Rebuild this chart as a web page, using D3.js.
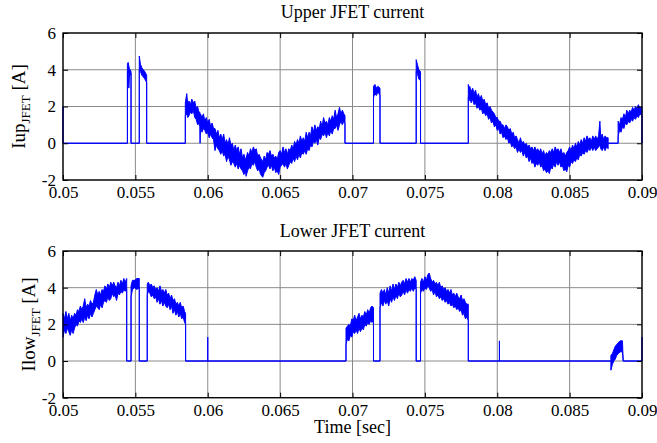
<!DOCTYPE html>
<html>
<head>
<meta charset="utf-8">
<script src="https://cdn.jsdelivr.net/npm/d3@7/dist/d3.min.js"></script>
<style>
  body { margin: 0; background: #fff; }
  svg text { font-family: "Liberation Serif", "Times New Roman", serif; fill: #000; }
</style>
</head>
<body>
<svg id="chart" width="657" height="443"></svg>
<script>
// Time axis (seconds) and current axis (amperes)
const timeTicks = [0.05, 0.055, 0.06, 0.065, 0.07, 0.075, 0.08, 0.085, 0.09];
const timeTickLabels = ["0.05", "0.055", "0.06", "0.065", "0.07", "0.075", "0.08", "0.085", "0.09"];
const currentTicks = [-2, 0, 2, 4, 6];
const currentTickLabels = ["-2", "0", "2", "4", "6"];

// Upper JFET current: [time, low edge of ripple band, high edge of ripple band]
const upperCurrent = [
  [0.05000, 0, 2.0], [0.05000, 0, 0],
  [0.05445, 0, 0],
  [0.05445, 3.9, 4.3], [0.05450, 3.8, 4.4], [0.05455, 3.0, 4.2], [0.05460, 3.8, 4.0], [0.05465, 3.7, 4.0], [0.05470, 3.8, 3.9],
  [0.05470, 0, 0],
  [0.05527, 0, 0],
  [0.05527, 4.0, 4.75], [0.05535, 3.9, 4.3], [0.05545, 3.7, 4.1], [0.05555, 3.6, 4.0], [0.05565, 3.5, 3.9], [0.05578, 3.3, 3.7],
  [0.05578, 0, 0],
  [0.05845, 0, 0],
  [0.05845, 1.5, 2.2], [0.05855, 1.6, 2.7], [0.05862, 1.4, 2.1], [0.05870, 1.5, 2.3], [0.05880, 1.7, 2.1],
  [0.05890, 1.6, 2.4], [0.05900, 1.8, 2.2], [0.05910, 1.4, 2.3], [0.05920, 1.3, 1.9], [0.05930, 1.0, 2.0],
  [0.05938, 1.1, 1.7], [0.05945, 0.9, 1.7], [0.05947, 0.0, 1.5], [0.05950, 0.9, 1.6], [0.05960, 0.6, 1.4],
  [0.05970, 0.8, 1.6], [0.05980, 0.7, 1.2], [0.05990, 0.5, 1.4], [0.06000, 0.6, 1.1], [0.06010, 0.3, 1.3],
  [0.06020, 0.5, 0.9], [0.06030, 0.3, 1.1], [0.06040, 0.2, 0.8], [0.06050, -0.4, 0.8], [0.06060, -0.1, 0.5],
  [0.06070, -0.3, 0.7], [0.06080, -0.4, 0.3], [0.06090, -0.6, 0.5], [0.06100, -0.4, 0.2], [0.06110, -0.7, 0.5],
  [0.06120, -0.6, 0.0], [0.06130, -1.0, 0.2], [0.06140, -0.7, -0.1], [0.06150, -0.9, 0.3], [0.06160, -1.2, -0.1],
  [0.06170, -1.0, 0.0], [0.06180, -1.1, -0.4], [0.06190, -1.3, -0.1], [0.06200, -1.1, -0.4], [0.06210, -1.4, -0.2],
  [0.06220, -1.2, -0.6], [0.06230, -1.4, -0.3], [0.06240, -1.5, -0.8], [0.06250, -1.7, -0.6], [0.06260, -1.5, -0.9],
  [0.06265, -1.8, -0.8], [0.06275, -1.5, -0.5], [0.06285, -1.3, -0.7], [0.06295, -1.4, -0.3], [0.06305, -1.1, -0.5],
  [0.06315, -1.2, -0.2], [0.06325, -1.0, -0.4], [0.06335, -1.3, -0.3], [0.06345, -1.5, -0.7], [0.06355, -1.4, -0.6],
  [0.06365, -1.7, -0.8], [0.06380, -1.85, -1.0], [0.06390, -1.6, -0.7], [0.06400, -1.5, -0.9], [0.06410, -1.3, -0.5],
  [0.06420, -1.2, -0.6], [0.06430, -1.4, -0.4], [0.06440, -1.2, -0.7], [0.06450, -1.5, -0.6], [0.06460, -1.3, -0.8],
  [0.06470, -1.6, -0.7], [0.06480, -1.5, -0.9], [0.06490, -1.7, -0.5], [0.06500, -1.3, -0.4], [0.06510, -1.2, -0.6],
  [0.06520, -1.1, -0.2], [0.06530, -1.3, -0.5], [0.06540, -1.1, -0.3], [0.06550, -1.4, -0.6], [0.06560, -1.2, -0.3],
  [0.06570, -1.0, -0.4], [0.06580, -1.1, -0.1], [0.06590, -0.8, -0.3], [0.06600, -1.0, 0.1], [0.06610, -0.7, -0.1],
  [0.06620, -0.9, 0.2], [0.06630, -0.6, 0.0], [0.06640, -0.8, 0.4], [0.06650, -0.5, 0.1], [0.06660, -0.6, 0.3],
  [0.06670, -0.4, 0.1], [0.06680, -0.6, 0.6], [0.06690, -0.3, 0.3], [0.06700, -0.4, 0.6], [0.06710, -0.1, 0.4],
  [0.06720, -0.2, 0.9], [0.06730, 0.1, 0.6], [0.06740, 0.0, 1.0], [0.06750, 0.2, 0.7], [0.06760, -0.1, 0.9],
  [0.06770, 0.3, 0.8], [0.06780, 0.2, 1.2], [0.06790, 0.5, 0.9], [0.06800, 0.4, 1.4], [0.06810, 0.6, 1.1],
  [0.06820, 0.3, 1.2], [0.06830, 0.6, 1.0], [0.06840, 0.4, 1.4], [0.06850, 0.7, 1.2], [0.06860, 0.5, 1.5],
  [0.06870, 0.8, 1.3], [0.06880, 0.8, 1.8], [0.06890, 1.0, 1.4], [0.06900, 0.7, 1.6], [0.06910, 1.0, 1.95],
  [0.06920, 1.2, 1.6], [0.06930, 1.0, 1.8], [0.06940, 1.2, 1.6], [0.06948, 1.1, 1.5],
  [0.06948, 0, 0],
  [0.07145, 0, 0],
  [0.07145, 2.5, 3.1], [0.07155, 2.7, 3.2], [0.07165, 2.6, 3.0], [0.07175, 2.8, 3.1], [0.07190, 2.6, 3.0],
  [0.07190, 0, 0],
  [0.07440, 0, 0],
  [0.07440, 3.9, 4.55], [0.07448, 3.8, 4.3], [0.07458, 3.5, 4.0], [0.07470, 3.4, 3.9],
  [0.07470, 0, 0],
  [0.07800, 0, 0],
  [0.07800, 2.5, 3.2], [0.07805, 2.3, 2.9], [0.07810, 2.5, 3.1], [0.07820, 2.2, 2.8], [0.07830, 2.4, 3.0],
  [0.07840, 2.1, 2.7], [0.07850, 2.2, 2.9], [0.07860, 1.9, 2.5], [0.07870, 2.0, 2.7], [0.07880, 1.8, 2.4],
  [0.07890, 1.9, 2.6], [0.07900, 1.6, 2.3], [0.07910, 1.7, 2.4], [0.07920, 1.5, 2.1], [0.07930, 1.6, 2.2],
  [0.07940, 1.3, 1.9], [0.07950, 1.4, 2.0], [0.07960, 1.1, 1.8], [0.07970, 1.2, 1.7], [0.07980, 0.9, 1.6],
  [0.07990, 1.0, 1.4], [0.08000, 0.7, 1.4], [0.08010, 0.8, 1.2], [0.08020, 0.5, 1.2], [0.08030, 0.6, 1.0],
  [0.08040, 0.3, 1.0], [0.08050, 0.4, 0.8], [0.08060, 0.2, 1.0], [0.08070, 0.3, 0.9], [0.08080, 0.0, 0.7],
  [0.08090, 0.1, 0.8], [0.08100, -0.2, 0.5], [0.08110, -0.1, 0.6], [0.08120, -0.3, 0.3], [0.08130, -0.2, 0.4],
  [0.08140, -0.5, 0.2], [0.08150, -0.3, 0.0], [0.08160, -0.5, 0.3], [0.08170, -0.4, 0.0], [0.08180, -0.7, 0.1],
  [0.08190, -0.5, -0.1], [0.08200, -0.8, 0.0], [0.08210, -0.7, -0.2], [0.08220, -1.0, -0.1], [0.08230, -0.8, -0.3],
  [0.08240, -1.1, -0.2], [0.08250, -1.0, -0.4], [0.08260, -1.3, -0.2], [0.08270, -1.1, -0.4], [0.08280, -1.2, -0.3],
  [0.08290, -1.0, -0.5], [0.08300, -1.3, -0.3], [0.08310, -1.2, -0.6], [0.08320, -1.5, -0.4], [0.08330, -1.4, -0.7],
  [0.08340, -1.6, -0.5], [0.08350, -1.5, -0.6], [0.08360, -1.65, -0.4], [0.08370, -1.3, -0.5], [0.08380, -1.4, -0.3],
  [0.08390, -1.1, -0.5], [0.08400, -1.3, -0.2], [0.08410, -1.0, -0.4], [0.08420, -1.2, -0.3], [0.08430, -1.0, -0.5],
  [0.08440, -1.3, -0.3], [0.08450, -1.2, -0.6], [0.08460, -1.5, -0.5], [0.08470, -1.4, -0.7], [0.08480, -1.55, -0.5],
  [0.08490, -1.2, -0.4], [0.08500, -1.3, -0.2], [0.08510, -1.0, -0.4], [0.08520, -1.1, -0.1], [0.08530, -0.9, -0.3],
  [0.08540, -1.0, 0.0], [0.08550, -0.8, -0.2], [0.08560, -0.9, 0.1], [0.08570, -0.6, -0.1], [0.08580, -0.7, 0.2],
  [0.08590, -0.5, 0.0], [0.08600, -0.6, 0.3], [0.08610, -0.4, 0.1], [0.08620, -0.5, 0.4], [0.08630, -0.3, 0.2],
  [0.08640, -0.4, 0.3], [0.08650, -0.2, 0.1], [0.08660, -0.4, 0.4], [0.08670, -0.2, 0.2], [0.08680, -0.4, 0.4],
  [0.08690, -0.3, 0.2], [0.08700, -0.2, 0.4], [0.08709, -0.1, 1.2], [0.08715, -0.3, 0.3], [0.08725, -0.4, 0.5],
  [0.08735, -0.2, 0.2], [0.08745, -0.4, 0.4], [0.08755, -0.2, 0.3], [0.08766, -0.3, 0.3],
  [0.08766, 0, 0],
  [0.08835, 0, 0],
  [0.08835, 0.4, 1.2], [0.08845, 0.7, 1.0], [0.08855, 0.6, 1.4], [0.08865, 0.9, 1.3], [0.08875, 0.8, 1.6],
  [0.08885, 1.1, 1.4], [0.08895, 1.0, 1.8], [0.08905, 1.2, 1.6], [0.08915, 1.1, 1.8], [0.08925, 1.3, 1.7],
  [0.08935, 1.2, 1.95], [0.08945, 1.4, 1.8], [0.08955, 1.3, 2.0], [0.08965, 1.5, 1.9], [0.08975, 1.4, 2.1],
  [0.08985, 1.6, 1.9], [0.09000, 1.5, 2.0],
  [0.09000, 0, 0]
];

// Lower JFET current: [time, low edge of ripple band, high edge of ripple band]
const lowerCurrent = [
  [0.05000, 1.3, 2.6], [0.05010, 1.7, 2.3], [0.05020, 1.5, 2.7], [0.05030, 1.8, 2.3], [0.05040, 1.6, 2.6],
  [0.05050, 1.4, 2.2], [0.05060, 1.7, 2.5], [0.05070, 1.5, 2.3], [0.05080, 1.8, 2.6], [0.05090, 2.0, 2.5],
  [0.05100, 1.9, 2.8], [0.05110, 2.2, 2.7], [0.05120, 2.1, 3.0], [0.05130, 2.3, 2.8], [0.05140, 2.1, 3.0],
  [0.05150, 2.4, 3.4], [0.05160, 2.2, 2.9], [0.05170, 2.5, 3.1], [0.05180, 2.3, 3.0], [0.05190, 2.6, 3.3],
  [0.05200, 2.4, 3.1], [0.05210, 2.6, 3.2], [0.05220, 2.8, 3.6], [0.05230, 3.0, 3.9], [0.05240, 2.9, 3.6],
  [0.05250, 2.8, 3.8], [0.05260, 3.1, 3.6], [0.05270, 2.9, 3.9], [0.05280, 3.2, 3.8], [0.05290, 3.3, 4.1],
  [0.05300, 3.2, 3.9], [0.05310, 3.5, 4.2], [0.05320, 3.3, 4.0], [0.05330, 3.4, 4.3], [0.05340, 3.7, 4.1],
  [0.05350, 3.5, 4.3], [0.05360, 3.6, 4.1], [0.05370, 3.3, 4.0], [0.05380, 3.7, 4.3], [0.05390, 3.6, 4.1],
  [0.05400, 3.8, 4.4], [0.05410, 3.7, 4.2], [0.05420, 3.9, 4.5], [0.05430, 3.8, 4.3], [0.05440, 3.9, 4.5],
  [0.05440, 0, 0],
  [0.05470, 0, 0],
  [0.05470, 3.5, 4.1], [0.05480, 3.9, 4.4], [0.05495, 4.0, 4.4], [0.05510, 3.9, 4.5], [0.05527, 4.0, 4.5],
  [0.05527, 0, 0],
  [0.05582, 0, 0],
  [0.05582, 3.6, 4.2], [0.05590, 3.8, 4.3], [0.05600, 3.7, 4.1], [0.05610, 3.5, 4.2], [0.05620, 3.6, 4.0],
  [0.05630, 3.4, 4.1], [0.05640, 3.5, 3.9], [0.05650, 3.2, 4.0], [0.05660, 3.4, 3.8], [0.05670, 3.1, 4.1],
  [0.05680, 3.3, 3.8], [0.05690, 3.0, 3.9], [0.05700, 3.2, 3.7], [0.05710, 3.0, 3.9], [0.05720, 2.9, 3.6],
  [0.05730, 3.1, 3.7], [0.05740, 2.8, 3.4], [0.05750, 3.0, 3.6], [0.05760, 2.6, 3.3], [0.05770, 2.8, 3.4],
  [0.05780, 2.5, 3.1], [0.05790, 2.7, 3.2], [0.05800, 2.4, 3.0], [0.05810, 2.6, 3.2], [0.05820, 2.3, 2.9],
  [0.05830, 2.4, 3.0], [0.05840, 2.1, 2.7], [0.05847, 2.0, 2.6],
  [0.05847, 0, 0],
  [0.06000, 0, 0], [0.06000, 0, 1.3], [0.06000, 0, 0],
  [0.06955, 0, 0],
  [0.06955, 0.9, 1.8], [0.06965, 1.2, 1.9], [0.06975, 1.1, 2.0], [0.06985, 1.4, 1.9], [0.06995, 1.3, 2.3],
  [0.07005, 1.6, 2.2], [0.07015, 1.5, 2.5], [0.07025, 1.7, 2.2], [0.07035, 1.5, 2.4], [0.07045, 1.8, 2.6],
  [0.07055, 1.6, 2.3], [0.07065, 1.8, 2.5], [0.07075, 1.7, 2.4], [0.07085, 2.0, 2.7], [0.07095, 1.9, 2.5],
  [0.07105, 2.1, 2.8], [0.07115, 2.0, 2.6], [0.07125, 2.2, 2.9], [0.07135, 2.1, 3.0], [0.07145, 2.3, 2.9],
  [0.07145, 0, 0],
  [0.07190, 0, 0],
  [0.07190, 2.9, 3.7], [0.07200, 3.2, 3.9], [0.07210, 3.0, 3.7], [0.07220, 3.3, 3.9], [0.07230, 3.1, 3.6],
  [0.07240, 3.3, 4.0], [0.07250, 3.0, 3.7], [0.07260, 3.4, 4.1], [0.07270, 3.2, 3.8], [0.07280, 3.5, 4.2],
  [0.07290, 3.3, 3.9], [0.07300, 3.6, 4.2], [0.07310, 3.4, 4.0], [0.07320, 3.7, 4.3], [0.07330, 3.5, 4.1],
  [0.07340, 3.6, 4.3], [0.07350, 3.8, 4.4], [0.07360, 3.6, 4.2], [0.07370, 3.9, 4.5], [0.07380, 3.7, 4.3],
  [0.07390, 3.9, 4.5], [0.07400, 3.8, 4.3], [0.07410, 4.0, 4.5], [0.07420, 3.8, 4.4], [0.07430, 4.0, 4.6],
  [0.07440, 3.9, 4.4],
  [0.07440, 0, 0],
  [0.07470, 0, 0],
  [0.07470, 3.7, 4.3], [0.07480, 3.9, 4.5], [0.07490, 3.8, 4.3], [0.07500, 4.0, 4.6], [0.07510, 3.9, 4.4],
  [0.07520, 4.1, 4.7], [0.07530, 4.0, 4.8], [0.07540, 3.8, 4.5], [0.07550, 3.9, 4.3], [0.07560, 3.6, 4.4],
  [0.07570, 3.8, 4.2], [0.07580, 3.5, 4.3], [0.07590, 3.6, 4.1], [0.07600, 3.4, 4.3], [0.07610, 3.5, 4.0],
  [0.07620, 3.3, 4.1], [0.07630, 3.4, 3.9], [0.07640, 3.2, 4.0], [0.07650, 3.3, 3.8], [0.07660, 3.1, 3.9],
  [0.07670, 3.2, 3.7], [0.07680, 3.0, 3.9], [0.07690, 3.1, 3.6], [0.07700, 2.9, 3.7], [0.07710, 3.0, 3.5],
  [0.07720, 2.8, 3.7], [0.07730, 2.9, 3.5], [0.07740, 2.7, 3.4], [0.07750, 2.8, 3.6], [0.07760, 2.5, 3.3],
  [0.07770, 2.6, 3.4], [0.07780, 2.3, 3.2], [0.07790, 2.4, 3.1], [0.07800, 2.2, 3.1],
  [0.07800, 0, 0],
  [0.08015, 0, 0], [0.08015, 0, 1.1], [0.08015, 0, 0],
  [0.08785, 0, 0],
  [0.08785, -0.5, 0.3], [0.08795, -0.2, 0.4], [0.08805, 0.0, 0.6], [0.08815, 0.1, 0.8], [0.08825, 0.3, 0.9],
  [0.08835, 0.4, 1.0], [0.08850, 0.5, 1.1], [0.08865, 0.5, 1.1],
  [0.08870, 0, 0],
  [0.09000, 0, 0], [0.09000, 0, 1.3]
];

const panels = [
  { title: "Upper JFET current", name: "Iup", data: upperCurrent, top: 33, bottom: 180, titleY: 18, labelX: 25 },
  { title: "Lower JFET current", name: "Ilow", data: lowerCurrent, top: 251, bottom: 397.7, titleY: 236.5, labelX: 35 }
];

const svg = d3.select("#chart");
const left = 63, right = 642;
const x = d3.scaleLinear().domain([0.05, 0.09]).range([left, right]);

panels.forEach(p => {
  const y = d3.scaleLinear().domain([-2, 6]).range([p.bottom, p.top]);
  const g = svg.append("g");

  // grid
  g.append("g").selectAll("line").data(timeTicks).join("line")
    .attr("x1", d => x(d)).attr("x2", d => x(d))
    .attr("y1", p.top).attr("y2", p.bottom)
    .attr("stroke", "#8a8a8a").attr("stroke-width", 1);
  g.append("g").selectAll("line").data(currentTicks).join("line")
    .attr("x1", left).attr("x2", right)
    .attr("y1", d => y(d)).attr("y2", d => y(d))
    .attr("stroke", "#8a8a8a").attr("stroke-width", 1);

  // current trace drawn as its ripple band
  const band = d3.area()
    .x(d => x(d[0]))
    .y0(d => y(d[1]))
    .y1(d => y(d[2]));
  g.append("path").datum(p.data)
    .attr("d", band)
    .attr("fill", "#0000ff")
    .attr("stroke", "#0000ff")
    .attr("stroke-width", 1)
    .attr("stroke-linejoin", "miter");

  // axes with inward ticks
  const fmtX = d3.scaleOrdinal().domain(timeTicks).range(timeTickLabels);
  const fmtY = d3.scaleOrdinal().domain(currentTicks).range(currentTickLabels);
  const styleAxis = sel => {
    sel.select(".domain").remove();
    sel.attr("font-family", null).attr("font-size", null);
    sel.selectAll("line").attr("stroke", "#000");
    sel.selectAll("text").style("font-size", "17px");
  };
  g.append("g").attr("transform", `translate(0,${p.bottom})`)
    .call(d3.axisBottom(x).tickValues(timeTicks).tickSize(-5).tickPadding(6).tickFormat(d => fmtX(d)))
    .call(styleAxis);
  g.append("g").attr("transform", `translate(0,${p.top})`)
    .call(d3.axisTop(x).tickValues(timeTicks).tickSize(-5).tickFormat(""))
    .call(styleAxis);
  g.append("g").attr("transform", `translate(${left},0)`)
    .call(d3.axisLeft(y).tickValues(currentTicks).tickSize(-5).tickPadding(7).tickFormat(d => fmtY(d)))
    .call(styleAxis);
  g.append("g").attr("transform", `translate(${right},0)`)
    .call(d3.axisRight(y).tickValues(currentTicks).tickSize(-5).tickFormat(""))
    .call(styleAxis);

  // frame
  g.append("rect")
    .attr("x", left).attr("y", p.top)
    .attr("width", right - left).attr("height", p.bottom - p.top)
    .attr("fill", "none").attr("stroke", "#000").attr("stroke-width", 1.3);

  // title
  g.append("text")
    .attr("x", (left + right) / 2).attr("y", p.titleY)
    .attr("text-anchor", "middle")
    .style("font-size", "18px")
    .text(p.title);

  // y label with subscript
  const yl = g.append("text")
    .attr("transform", `translate(${p.labelX},${(p.top + p.bottom) / 2}) rotate(-90)`)
    .attr("text-anchor", "middle")
    .style("font-size", "19px");
  yl.append("tspan").text(p.name);
  yl.append("tspan").attr("dy", 5).style("font-size", "13px").text("JFET");
  yl.append("tspan").attr("dy", -5).text(" [A]");
});

svg.append("text")
  .attr("x", (left + right) / 2).attr("y", 433)
  .attr("text-anchor", "middle")
  .style("font-size", "18px")
  .text("Time [sec]");
</script>
</body>
</html>
